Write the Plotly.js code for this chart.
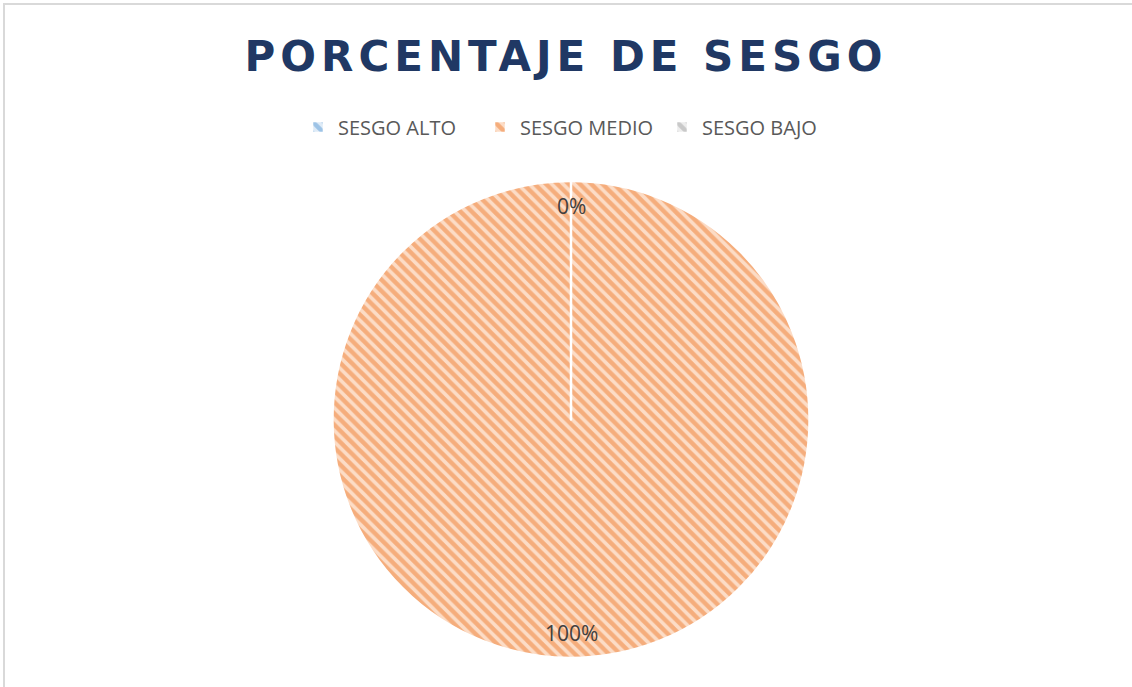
<!DOCTYPE html>
<html>
<head>
<meta charset="utf-8">
<script src="https://cdn.plot.ly/plotly-3.0.1.min.js"></script>
<style>
  html, body { margin: 0; padding: 0; background: #ffffff; overflow: hidden; }
  #frame { position: absolute; left: 3px; top: 3px; width: 1140px; height: 700px; border: 2px solid #d9d9d9; box-sizing: border-box; }
  #chart { position: absolute; left: 0; top: 0; width: 1132px; height: 687px; }
</style>
</head>
<body>
<div id="frame"></div>
<div id="chart"></div>
<script>
const categories = ["SESGO ALTO", "SESGO MEDIO", "SESGO BAJO"];
const values = [0, 100, 0];
const percentLabels = ["0%", "100%", "0%"];
const sliceColors = ["#5B9BD5", "#ED7D31", "#A5A5A5"];
const bgColors = ["#DEEBF7", "#FCDCC6", "#EDEDED"];

const trace = {
  type: "pie",
  labels: categories,
  values: values,
  sort: false,
  direction: "clockwise",
  rotation: 0,
  textinfo: "none",
  hoverinfo: "label+percent",
  marker: {
    colors: sliceColors,
    line: { color: "#ffffff", width: 2.5 },
    pattern: {
      shape: "\\",
      fgcolor: sliceColors,
      bgcolor: bgColors,
      size: 8,
      solidity: 0.55,
      fillmode: "overlay"
    }
  },
  domain: { x: [0, 1], y: [0, 1] }
};

const layout = {
  width: 1132,
  height: 687,
  paper_bgcolor: "rgba(0,0,0,0)",
  plot_bgcolor: "rgba(0,0,0,0)",
  margin: { l: 10, r: 0, t: 181, b: 29 },
  title: {
    text: "PORCENTAJE DE SESGO",
    font: { family: "DejaVu Sans", size: 42, color: "#203864", weight: "bold" },
    x: 0.5, xanchor: "center",
    y: 0.918, yanchor: "middle"
  },
  showlegend: true,
  legend: {
    orientation: "h",
    x: 0.5, xanchor: "center",
    y: 1.113, yanchor: "middle",
    font: { family: "Open Sans", size: 20, color: "#595959" },
    itemwidth: 30,
    entrywidth: 137,
    entrywidthmode: "pixels",
    traceorder: "normal"
  },
  annotations: []
};

Plotly.newPlot("chart", [trace], layout, { displayModeBar: false, staticPlot: true }).then(function (gd) {
  // place percentage labels near the outer edge of each slice, computed from the data
  const total = values.reduce((a, b) => a + b, 0);
  const fl = gd._fullLayout;
  const sz = fl._size;
  const cd0 = gd.calcdata[0][0];
  const cx = cd0.cx, cy = cd0.cy, r = cd0.r;
  let cum = 0;
  const anns = [];
  values.forEach(function (v, i) {
    const startFrac = cum / total;
    cum += v;
    const endFrac = cum / total;
    const midFrac = (startFrac + endFrac) / 2;
    if (i === 2) return; // coincides with the first zero-slice label
    const ang = midFrac * 2 * Math.PI; // clockwise from 12 o'clock
    const rr = 0.895 * r;
    const px = cx + rr * Math.sin(ang);
    const py = cy - rr * Math.cos(ang);
    anns.push({
      text: percentLabels[i],
      x: (px - sz.l) / sz.w,
      y: 1 - (py - sz.t) / sz.h,
      xref: "paper", yref: "paper",
      xanchor: "center", yanchor: "middle",
      showarrow: false,
      font: { family: "Open Sans", size: 21, color: "#404040" }
    });
  });
  return Plotly.relayout(gd, { annotations: anns });
}).then(function () {
  const t = document.querySelector(".gtitle");
  if (t) { t.style.letterSpacing = "5px"; }
});
</script>
</body>
</html>
